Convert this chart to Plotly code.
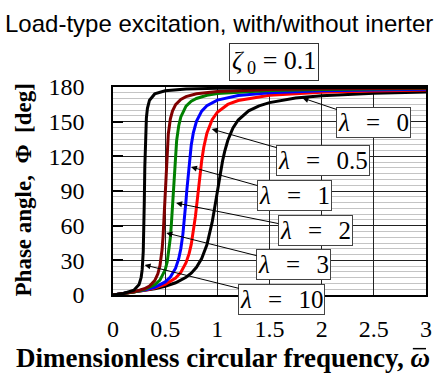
import plotly.graph_objects as go

# ---- data (dimensionless frequency vs phase angle, deg) ----
w_l0 = [0, 0.1, 0.2, 0.3, 0.4, 0.5, 0.6, 0.7, 0.75, 0.8, 0.85, 0.9, 0.93, 0.95, 0.97, 0.98, 1.0,
        1.02, 1.03, 1.05, 1.07, 1.1, 1.15, 1.2, 1.3, 1.4, 1.5, 1.75, 2.0, 2.5, 3.0]
p_l0 = [0, 1.2, 2.4, 3.8, 5.4, 7.6, 10.6, 15.4, 18.9, 24.0, 31.5, 43.5, 54.0, 62.8, 73.1, 78.6, 90,
        101.2, 106.5, 116.0, 124.1, 133.7, 144.5, 151.4, 159.4, 163.7, 166.5, 170.4, 172.4, 174.6, 175.7]

w_l05 = [0, 0.1, 0.2, 0.3, 0.4, 0.5, 0.6, 0.65, 0.7, 0.73, 0.75, 0.77, 0.79, 0.8, 0.81, 0.8165,
         0.825, 0.83, 0.85, 0.87, 0.9, 0.95, 1.0, 1.1, 1.2, 1.5, 2.0, 2.5, 3.0]
p_l05 = [0, 1.2, 2.4, 4.0, 6.0, 9.1, 14.6, 19.5, 27.9, 36.0, 43.8, 54.3, 68.0, 76.0, 84.4, 90,
         97.2, 101.4, 116.2, 127.9, 140.1, 151.8, 158.2, 164.9, 168.3, 172.8, 175.4, 176.6, 177.3]

w_l1 = [0, 0.1, 0.2, 0.3, 0.4, 0.5, 0.55, 0.6, 0.63, 0.65, 0.67, 0.68, 0.69, 0.7, 0.707,
        0.715, 0.72, 0.73, 0.75, 0.77, 0.8, 0.85, 0.9, 1.0, 1.2, 1.5, 2.0, 2.5, 3.0]
p_l1 = [0, 1.2, 2.5, 4.2, 6.7, 11.3, 15.6, 23.2, 31.4, 40.0, 52.7, 61.1, 70.9, 81.9, 90,
        98.9, 104.3, 114.3, 129.8, 140.4, 150.3, 159.1, 163.8, 168.7, 172.7, 175.1, 176.7, 177.5, 178.0]

w_l2 = [0, 0.1, 0.2, 0.3, 0.4, 0.45, 0.5, 0.52, 0.54, 0.55, 0.56, 0.57, 0.577, 0.585, 0.59,
        0.6, 0.61, 0.63, 0.65, 0.7, 0.75, 0.8, 0.9, 1.0, 1.5, 2.0, 3.0]
p_l2 = [0, 1.2, 2.6, 4.7, 8.8, 12.9, 21.8, 28.9, 40.8, 49.9, 62.1, 77.5, 89.4, 102.8, 110.6,
        123.7, 133.6, 146.5, 154.1, 163.4, 167.7, 170.1, 172.8, 174.3, 177.0, 177.9, 178.7]

w_l3 = [0, 0.1, 0.2, 0.3, 0.35, 0.4, 0.43, 0.45, 0.47, 0.48, 0.49, 0.5, 0.51, 0.52, 0.53,
        0.55, 0.57, 0.6, 0.65, 0.7, 0.8, 1.0, 1.5, 2.0, 3.0]
p_l3 = [0, 1.2, 2.7, 5.4, 7.8, 12.5, 18.3, 25.4, 38.9, 50.8, 68.0, 90, 111.6, 128.1, 139.4,
        152.4, 159.2, 164.7, 169.3, 171.7, 174.1, 176.2, 177.9, 178.5, 179.0]

w_l10 = [0, 0.1, 0.2, 0.25, 0.27, 0.28, 0.29, 0.295, 0.3, 0.305, 0.31, 0.32, 0.33, 0.35,
         0.4, 0.5, 0.7, 1.0, 1.5, 2.0, 3.0]
p_l10 = [0, 1.3, 4.1, 9.1, 15.3, 22.1, 37.8, 54.1, 80.5, 110.9, 132.6, 153.2, 161.6, 168.6,
         174.0, 176.7, 178.2, 178.9, 179.3, 179.5, 179.6]

series_names = ["λ = 0", "λ = 0.5", "λ = 1", "λ = 2", "λ = 3", "λ = 10"]
series_w = [w_l0, w_l05, w_l1, w_l2, w_l3, w_l10]
series_p = [p_l0, p_l05, p_l1, p_l2, p_l3, p_l10]
series_colors = ["#000000", "#ff0000", "#0000ff", "#008000", "#800000", "#000000"]

x_ticks = [0, 0.5, 1, 1.5, 2, 2.5, 3]
y_ticks = [0, 30, 60, 90, 120, 150, 180]

SERIF = "Times New Roman, Liberation Serif, serif"
SANS = "Arial, Liberation Sans, sans-serif"

fig = go.Figure()
for name, w, p, c in zip(series_names, series_w, series_p, series_colors):
    fig.add_trace(go.Scatter(x=w, y=p, mode="lines", name=name,
                             line=dict(color=c, width=3), showlegend=False))

fig.update_layout(
    width=444, height=379,
    margin=dict(l=113, r=13, t=87, b=84),
    paper_bgcolor="white", plot_bgcolor="white",
    showlegend=False,
)
fig.update_xaxes(
    range=[0, 3], tickvals=x_ticks, ticktext=[str(v) for v in x_ticks],
    showgrid=True, gridcolor="#222222", gridwidth=1,
    showline=True, mirror=True, linecolor="black", linewidth=1.5,
    ticks="", tickfont=dict(family=SERIF, size=24, color="black"),
    ticklabelstandoff=11, zeroline=False,
)
fig.update_yaxes(
    range=[0, 180], tickvals=y_ticks,
    showgrid=True, gridcolor="#222222", gridwidth=1,
    minor=dict(dtick=5, showgrid=True, gridcolor="#c4c4c4", gridwidth=1),
    showline=True, mirror=True, linecolor="black", linewidth=1.5,
    ticks="inside", ticklen=10, tickcolor="black", tickwidth=1.5,
    tickfont=dict(family=SERIF, size=24, color="black"),
    ticklabelstandoff=22, zeroline=False,
)

anns = []
# title
anns.append(dict(text="Load-type excitation, with/without inerter", xref="paper", yref="paper",
                 x=0.340, y=1.303, showarrow=False, font=dict(family=SANS, size=24, color="black"),
                 xanchor="center", yanchor="middle"))
# zeta box
anns.append(dict(text="<i>ζ</i><sub> 0</sub> = 0.1", xref="paper", yref="paper",
                 x=0.513, y=1.120, showarrow=False, font=dict(family=SERIF, size=26, color="black"),
                 bordercolor="#333333", borderwidth=1, borderpad=2, bgcolor="white",
                 xanchor="center", yanchor="middle"))
# axis titles
anns.append(dict(text="<b>Dimensionless circular frequency, <i>ω</i></b>",
                 xref="paper", yref="paper",
                 x=0.352, y=-0.303, showarrow=False, font=dict(family=SERIF, size=27, color="black"),
                 xanchor="center", yanchor="middle"))
anns.append(dict(text="<b>Phase angle,&nbsp; Φ &nbsp;[deg]</b>", xref="paper", yref="paper",
                 x=-0.286, y=0.505, showarrow=False, textangle=-90,
                 font=dict(family=SERIF, size=23, color="black"),
                 xanchor="center", yanchor="middle"))

# label boxes (centre, data units) with arrows pointing at their curves
label_center = [(2.50, 149.7), (2.015, 116.0), (1.741, 85.7), (1.939, 55.4), (1.731, 26.0), (1.618, -3.5)]
arrow_head = [(1.816, 170.5), (0.946, 143.6), (0.747, 110.8), (0.605, 79.6), (0.511, 53.7), (0.303, 26.0)]

for name, (cx, cy), (hx, hy) in zip(series_names, label_center, arrow_head):
    lam, rest = name.split(" ", 1)
    eq, val = rest.split(" ", 1)
    anns.append(dict(text=f"<i>{lam}</i> \u2009\u2009{eq}\u2009\u2009 {val}",
                     x=hx, y=hy, ax=cx, ay=cy, xref="x", yref="y", axref="x", ayref="y",
                     showarrow=True, arrowhead=2, arrowsize=1.2, arrowwidth=1, arrowcolor="black",
                     font=dict(family=SERIF, size=25, color="black"),
                     bordercolor="#444444", borderwidth=1, borderpad=1, bgcolor="white"))

fig.update_layout(annotations=anns)
# overbar on the omega of the x-axis title
fig.add_shape(type="line", xref="paper", yref="paper", x0=0.958, x1=1.0, y0=-0.258, y1=-0.258,
              line=dict(color="black", width=1.5))
fig.write_html("out.html", post_script="document.body.style.margin='0px';",
               config={"displayModeBar": False})
